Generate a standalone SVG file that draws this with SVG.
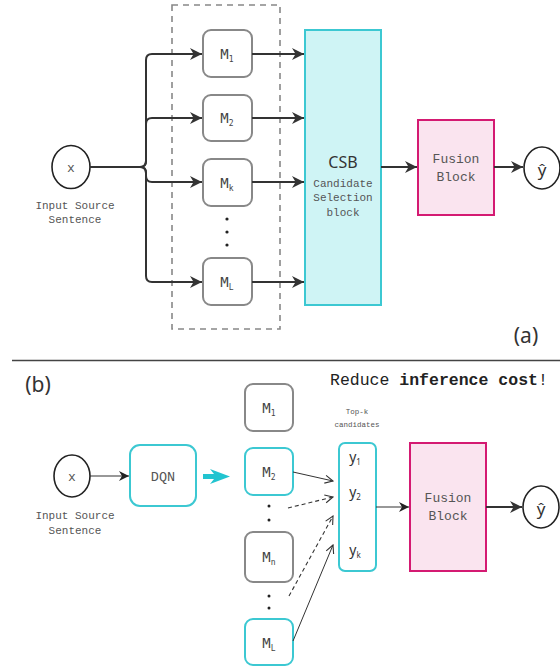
<svg xmlns="http://www.w3.org/2000/svg" width="560" height="668" viewBox="0 0 560 668">
<style>
.mono{font-family:"Liberation Mono","DejaVu Sans Mono",monospace;fill:#555}
.sans{font-family:"Noto Sans","Liberation Sans",sans-serif;fill:#333}
.mbox{fill:#fff;stroke:#888;stroke-width:2}
.mcyan{fill:#fff;stroke:#3cc8d2;stroke-width:2}
.mlab{font-family:"DejaVu Sans Mono","Liberation Mono",monospace;font-size:14px;fill:#444;text-anchor:middle}
.sub{font-size:8px}
.circ{fill:#fff;stroke:#222;stroke-width:1.6}
.thick{fill:none;stroke:#333;stroke-width:2}
.thin{fill:none;stroke:#333;stroke-width:1.2}
.dash{fill:none;stroke:#333;stroke-width:1.1;stroke-dasharray:4 3}
.dot{fill:#222}
</style>
<defs>
<marker id="ah" viewBox="0 0 10 10" refX="10" refY="5" markerWidth="12" markerHeight="12" markerUnits="userSpaceOnUse" orient="auto">
<path d="M0,0 L10,5 L0,10 L3,5 Z" fill="#333"/>
</marker>
<marker id="ahs" viewBox="0 0 10 10" refX="10" refY="5" markerWidth="10" markerHeight="10" markerUnits="userSpaceOnUse" orient="auto">
<path d="M0,0 L10,5 L0,10 L3,5 Z" fill="#222"/>
</marker>
<marker id="ao" viewBox="0 0 10 10" refX="9" refY="5" markerWidth="10" markerHeight="10" markerUnits="userSpaceOnUse" orient="auto">
<path d="M1,1 L9,5 L1,9" fill="none" stroke="#333" stroke-width="1.1"/>
</marker>
</defs>
<rect width="560" height="668" fill="#fff"/>

<!-- Part (a) -->
<g id="a-group">
<rect x="172" y="5" width="108" height="324" fill="none" stroke="#888" stroke-width="1.6" stroke-dasharray="6 5"/>
</g>
<g id="a-x">
<ellipse class="circ" cx="71" cy="167" rx="19" ry="21.5"/>
<text class="mono" x="71" y="172" font-size="13" text-anchor="middle">x</text>
<text class="mono" x="75" y="209" font-size="11" text-anchor="middle">Input Source</text>
<text class="mono" x="75" y="223" font-size="11" text-anchor="middle">Sentence</text>
</g>
<g id="a-m1"><rect class="mbox" x="203" y="30" width="49" height="47" rx="8"/><text class="mlab" x="227" y="59">M<tspan class="sub" dy="3">1</tspan></text></g>
<g id="a-m2"><rect class="mbox" x="203" y="95" width="49" height="46" rx="8"/><text class="mlab" x="227" y="123">M<tspan class="sub" dy="3">2</tspan></text></g>
<g id="a-mk"><rect class="mbox" x="203" y="159" width="49" height="47" rx="8"/><text class="mlab" x="227" y="188">M<tspan class="sub" dy="3">k</tspan></text></g>
<g id="a-dots"><circle class="dot" cx="227" cy="219" r="1.6"/><circle class="dot" cx="227" cy="232" r="1.6"/><circle class="dot" cx="227" cy="245" r="1.6"/></g>
<g id="a-ml"><rect class="mbox" x="203" y="258" width="49" height="47" rx="8"/><text class="mlab" x="227" y="287">M<tspan class="sub" dy="3">L</tspan></text></g>
<g id="a-csb">
<rect x="305" y="30" width="76" height="275" fill="#cff4f5" stroke="#3cc8d2" stroke-width="2"/>
<text class="sans" x="343" y="168" font-size="16" text-anchor="middle">CSB</text>
<text class="mono" x="343" y="187" font-size="11" text-anchor="middle">Candidate</text>
<text class="mono" x="343" y="201" font-size="11" text-anchor="middle">Selection</text>
<text class="mono" x="343" y="216" font-size="11" text-anchor="middle">block</text>
</g>
<g id="a-fusion">
<rect x="418" y="120" width="76" height="95" fill="#fae4ef" stroke="#d41a72" stroke-width="2"/>
<text class="mono" x="456" y="163" font-size="13" text-anchor="middle">Fusion</text>
<text class="mono" x="456" y="181" font-size="13" text-anchor="middle">Block</text>
</g>
<g id="a-yhat">
<ellipse class="circ" cx="542" cy="168" rx="18" ry="21"/>
<text class="sans" x="542" y="176" font-size="17" text-anchor="middle" fill="#444">ŷ</text>
</g>
<text class="sans" x="526" y="343" font-size="21" text-anchor="middle" fill="#444">(a)</text>

<g id="a-connectors">
<path class="thick" d="M90,167 H140 Q146,167 146,161 V60 Q146,54 152,54 H202" marker-end="url(#ah)"/>
<path class="thick" d="M90,167 H140 Q146,167 146,161 V124 Q146,118 152,118 H202" marker-end="url(#ah)"/>
<path class="thick" d="M90,167 H140 Q146,167 146,173 V176 Q146,182 152,182 H202" marker-end="url(#ah)"/>
<path class="thick" d="M90,167 H140 Q146,167 146,173 V276 Q146,282 152,282 H202" marker-end="url(#ah)"/>
<path class="thick" d="M252,54 H304" marker-end="url(#ah)"/>
<path class="thick" d="M252,118 H304" marker-end="url(#ah)"/>
<path class="thick" d="M252,182 H304" marker-end="url(#ah)"/>
<path class="thick" d="M252,282 H304" marker-end="url(#ah)"/>
<path class="thick" d="M381,167 H417" marker-end="url(#ah)"/>
<path class="thick" d="M494,167 H523" marker-end="url(#ah)"/>
</g>

<line x1="12" y1="360.5" x2="560" y2="360.5" stroke="#444" stroke-width="1.6"/>

<!-- Part (b) -->
<text class="sans" x="38" y="392" font-size="21" text-anchor="middle" fill="#444">(b)</text>
<text x="330" y="385" font-size="16.5" font-family="Liberation Mono, DejaVu Sans Mono, monospace" fill="#222">Reduce <tspan font-weight="bold">inference cost</tspan>!</text>

<g id="b-x">
<ellipse class="circ" cx="72" cy="476" rx="18" ry="21"/>
<text class="mono" x="72" y="481" font-size="13" text-anchor="middle">x</text>
<text class="mono" x="75" y="519" font-size="11" text-anchor="middle">Input Source</text>
<text class="mono" x="75" y="534" font-size="11" text-anchor="middle">Sentence</text>
</g>
<g id="b-dqn">
<rect x="130" y="445" width="66" height="61" rx="10" fill="#fff" stroke="#3cc8d2" stroke-width="2"/>
<text class="mono" x="163" y="481" font-size="13.5" text-anchor="middle" fill="#444">DQN</text>
</g>
<g id="b-m1"><rect class="mbox" x="245" y="384" width="48" height="47" rx="8"/><text class="mlab" x="269" y="413">M<tspan class="sub" dy="3">1</tspan></text></g>
<g id="b-m2"><rect class="mcyan" x="245" y="448" width="48" height="47" rx="8"/><text class="mlab" x="269" y="477">M<tspan class="sub" dy="3">2</tspan></text></g>
<g id="b-dots1"><circle class="dot" cx="269" cy="506" r="1.5"/><circle class="dot" cx="269" cy="520" r="1.5"/></g>
<g id="b-mn"><rect class="mbox" x="245" y="532" width="48" height="50" rx="8"/><text class="mlab" x="269" y="562">M<tspan class="sub" dy="3">n</tspan></text></g>
<g id="b-dots2"><circle class="dot" cx="269" cy="596" r="1.5"/><circle class="dot" cx="269" cy="608" r="1.5"/></g>
<g id="b-ml"><rect class="mcyan" x="245" y="619" width="48" height="46" rx="8"/><text class="mlab" x="269" y="648">M<tspan class="sub" dy="3">L</tspan></text></g>
<g id="b-topk">
<text class="mono" x="357" y="414" font-size="7.5" text-anchor="middle">Top-k</text>
<text class="mono" x="357" y="427" font-size="7.5" text-anchor="middle">candidates</text>
<rect x="339" y="443" width="37" height="128" rx="6" fill="#fff" stroke="#3cc8d2" stroke-width="2"/>
<text class="sans" x="355" y="462" font-size="14" text-anchor="middle" fill="#444">y<tspan font-size="8" dy="3">1</tspan></text>
<text class="sans" x="355" y="497" font-size="14" text-anchor="middle" fill="#444">y<tspan font-size="8" dy="3">2</tspan></text>
<text class="sans" x="355" y="555" font-size="14" text-anchor="middle" fill="#444">y<tspan font-size="8" dy="3">k</tspan></text>
</g>
<g id="b-fusion">
<rect x="410" y="443" width="76" height="128" fill="#fae4ef" stroke="#d41a72" stroke-width="2"/>
<text class="mono" x="448" y="502" font-size="13" text-anchor="middle">Fusion</text>
<text class="mono" x="448" y="520" font-size="13" text-anchor="middle">Block</text>
</g>
<g id="b-yhat">
<ellipse class="circ" cx="541" cy="507" rx="18" ry="21"/>
<text class="sans" x="541" y="515" font-size="17" text-anchor="middle" fill="#444">ŷ</text>
</g>

<g id="b-connectors">
<path class="thin" d="M90,476 H129" marker-end="url(#ahs)"/>
<polygon points="203,474 214,474 210,469 230,476.5 210,484 214,479 203,479" fill="#22c4d0"/>
<path fill="none" stroke="#333" stroke-width="1" d="M293,472 L333,481" marker-end="url(#ao)"/>
<path class="dash" d="M288,508 L333,497" marker-end="url(#ao)"/>
<path class="dash" d="M289,596 L333,516" marker-end="url(#ao)"/>
<path fill="none" stroke="#333" stroke-width="1" d="M293,641 L333,545" marker-end="url(#ao)"/>
<path class="thin" d="M376,507 H409" marker-end="url(#ahs)"/>
<path class="thick" d="M486,507 H522" marker-end="url(#ah)"/>
</g>
</svg>
